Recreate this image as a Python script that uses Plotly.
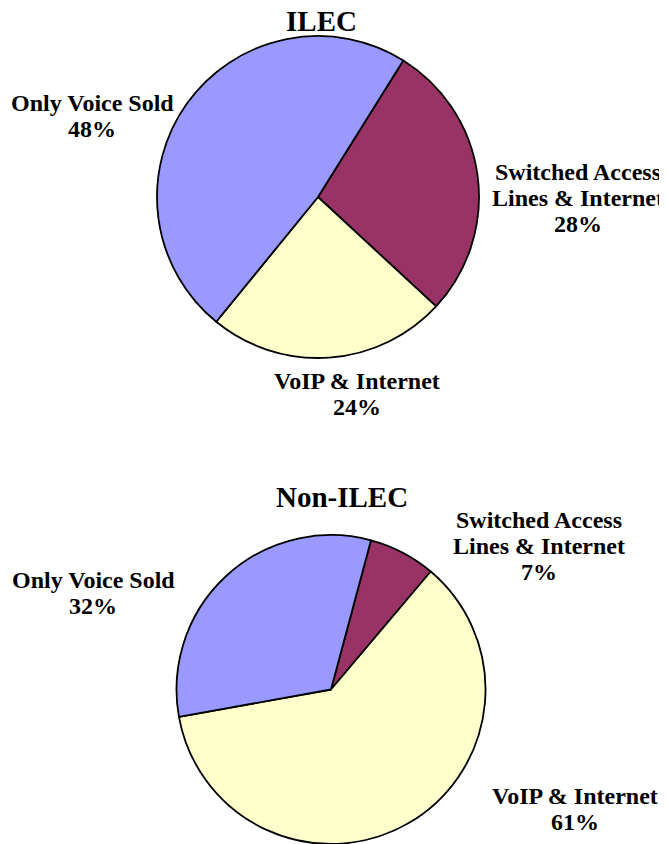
import plotly.graph_objects as go

# the page body has an 8px margin, so the figure starts at (8, 8) in the window
OFF = 8
W, H = 667 - OFF, 844 - OFF

# slice order as drawn (clockwise from the start angle)
categories = ["Switched Access Lines & Internet", "VoIP & Internet", "Only Voice Sold"]
label_lines = [["Switched Access", "Lines & Internet"], ["VoIP & Internet"], ["Only Voice Sold"]]
colors = ["#993366", "#FFFFCC", "#9999FF"]

ilec_title = "ILEC"
ilec_pct = [28, 24, 48]
non_ilec_title = "Non-ILEC"
non_ilec_pct = [7, 61, 32]

# label block centres in window pixels (x, y from top)
ilec_label_pos = [(578, 198), (357, 394), (92, 116)]
non_ilec_label_pos = [(539, 546), (575, 809), (93, 593)]

FONT = "Liberation Serif"
LINE_H = 26


def px_domain(cx, cy, r):
    cx, cy = cx - OFF, cy - OFF
    x = [(cx - r) / W, (cx + r) / W]
    y = [max(0, 1 - (cy + r) / H), min(1, 1 - (cy - r) / H)]
    return dict(x=x, y=y)


fig = go.Figure()
fig.add_trace(go.Pie(
    labels=categories, values=ilec_pct, sort=False, direction="clockwise",
    rotation=32, marker=dict(colors=colors, line=dict(color="black", width=1.8)),
    textinfo="none", hoverinfo="label+percent", domain=px_domain(318, 197, 161),
    showlegend=False,
))
fig.add_trace(go.Pie(
    labels=categories, values=non_ilec_pct, sort=False, direction="clockwise",
    rotation=15, marker=dict(colors=colors, line=dict(color="black", width=1.8)),
    textinfo="none", hoverinfo="label+percent", domain=px_domain(331, 690, 155),
    showlegend=False,
))

annotations = []


def add_text(text, cx, cy, size, shift=0):
    annotations.append(dict(
        text=text, x=(cx - OFF) / W, y=1 - (cy - OFF) / H, xref="paper", yref="paper",
        xanchor="center", yanchor="middle", showarrow=False, yshift=shift,
        font=dict(family=FONT, size=size, color="black", weight="bold"),
    ))


add_text(ilec_title, 321, 21, 29)
add_text(non_ilec_title, 342, 497, 29)

for pcts, positions in [(ilec_pct, ilec_label_pos), (non_ilec_pct, non_ilec_label_pos)]:
    for lines, pct, (cx, cy) in zip(label_lines, pcts, positions):
        block = lines + [f"{pct}%"]
        n = len(block)
        for i, line in enumerate(block):
            add_text(line, cx, cy, 24, shift=((n - 1) / 2 - i) * LINE_H)

fig.update_layout(
    width=W, height=H, margin=dict(l=0, r=0, t=0, b=0),
    paper_bgcolor="white", plot_bgcolor="white",
    annotations=annotations,
)

fig.write_html("out.html")
